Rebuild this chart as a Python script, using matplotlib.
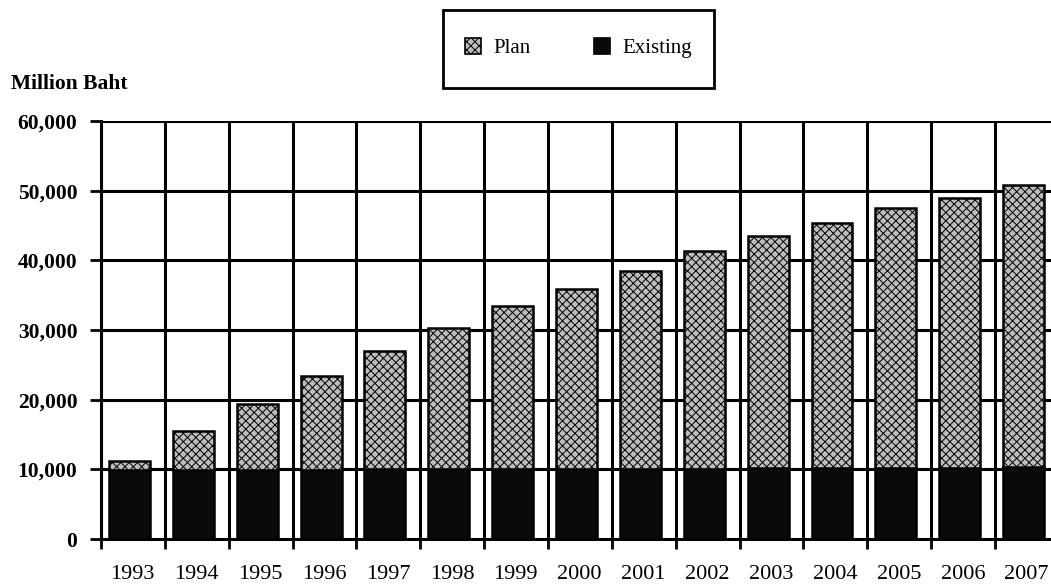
import matplotlib
matplotlib.use("Agg")
import matplotlib.pyplot as plt
import numpy as np
from matplotlib.patches import Patch, Rectangle

years = ['1993', '1994', '1995', '1996', '1997', '1998', '1999', '2000',
         '2001', '2002', '2003', '2004', '2005', '2006', '2007']
total = [11200, 15500, 19400, 23400, 27000, 30300, 33400, 35900,
         38500, 41400, 43500, 45400, 47500, 49000, 50800]
existing = [9900, 9900, 9900, 9950, 10000, 10000, 10050, 10050,
            10100, 10100, 10150, 10150, 10200, 10200, 10300]
plan = [t - e for t, e in zip(total, existing)]

plt.rcParams['font.family'] = ['Liberation Serif', 'DejaVu Serif']
plt.rcParams['hatch.linewidth'] = 0.7
plt.rcParams['hatch.color'] = '#222222'

plan_color = '#bdbdbd'
exist_color = '#0a0a0a'

fig = plt.figure(figsize=(10.51, 5.85), dpi=100)
ax = fig.add_axes([0.0961, 0.0786, 0.9039, 0.7146])

x = np.arange(len(years))
offset = 0.446
width = 0.64

# grid behind bars
for xv in x - offset:
    ax.axvline(xv, color='black', lw=2.2, zorder=1)
for yv in range(10000, 60001, 10000):
    ax.axhline(yv, color='black', lw=2.2, zorder=1)

ax.bar(x, existing, width, color=exist_color, edgecolor='black', lw=1.8, zorder=3)
ax.bar(x, plan, width, bottom=existing, color=plan_color, edgecolor='black',
       hatch='xxxx', lw=1.8, zorder=3)

ax.set_xlim(-offset, len(years) - 1 + 0.43)
ax.set_ylim(0, 60000)

for s in ['top', 'right']:
    ax.spines[s].set_visible(False)
ax.spines['left'].set_linewidth(2.2)
ax.spines['bottom'].set_linewidth(2.2)

ax.set_xticks(x - offset)
ax.set_xticklabels([])
ax.set_xticks(x + 0.05, minor=True)
ax.set_xticklabels(years, minor=True, fontsize=16)
ax.tick_params(axis='x', which='major', length=7, width=2, direction='out')
ax.tick_params(axis='x', which='minor', length=0, pad=19)

ax.set_yticks(range(0, 60001, 10000))
ax.set_yticklabels([f'{v:,}' for v in range(0, 60001, 10000)],
                   fontsize=15.5, fontweight='bold')
ax.tick_params(axis='y', length=8, width=2, pad=9)

fig.text(0.010, 0.857, 'Million Baht', fontsize=15.5, fontweight='bold',
         va='center', ha='left')

# legend box drawn separately so its size can follow the original
fig.patches.append(Rectangle((443 / 1051, 1 - 88 / 585), 271 / 1051, 78 / 585,
                             transform=fig.transFigure, fill=False,
                             edgecolor='black', lw=2))
handles = [Patch(facecolor=plan_color, edgecolor='black', hatch='xxxx', lw=1.2,
                 label='Plan'),
           Patch(facecolor=exist_color, edgecolor='black', lw=1.2,
                 label='Existing')]
fig.legend(handles=handles, loc='center', bbox_to_anchor=(0.5504, 0.918),
           ncol=2, fontsize=15, frameon=False,
           handlelength=0.8, handleheight=0.8, handletextpad=0.6,
           columnspacing=3.0, borderpad=0, borderaxespad=0)

fig.savefig('out.png', dpi=100)
